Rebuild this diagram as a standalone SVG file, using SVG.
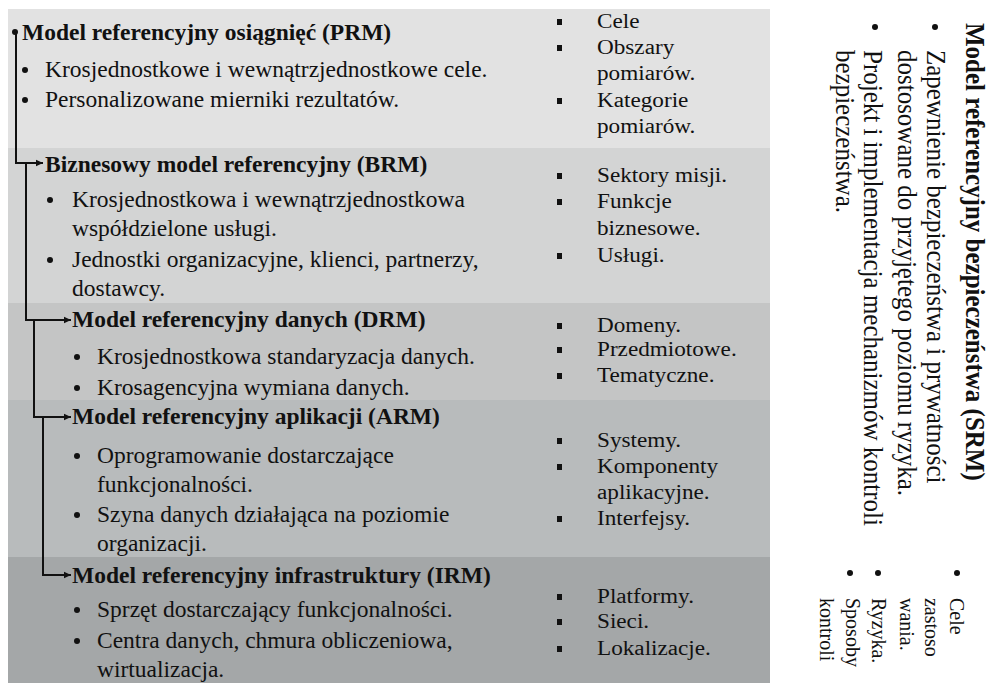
<svg xmlns="http://www.w3.org/2000/svg" width="988" height="683" viewBox="0 0 988 683" font-family="'Liberation Serif', 'Times New Roman', Tinos, 'DejaVu Serif', serif">
<style>
text{font-family:'Liberation Serif','Times New Roman',Tinos,'DejaVu Serif',serif;fill:#111}
.h{font-size:23.5px;font-weight:bold}
.b{font-size:23.5px}
.r{font-size:20px}
.sh{font-size:25px;font-weight:bold}
.sb{font-size:25px}
.ss{font-size:20px}
.dot{fill:#111}
.sq{fill:#111}
.conn{fill:none;stroke:#111;stroke-width:2}
</style>
<defs>
<marker id="arr" markerUnits="userSpaceOnUse" markerWidth="8" markerHeight="8" refX="7" refY="4" orient="auto">
<path d="M0,0.8 L7,4 L0,7.2 Z" fill="#111"/>
</marker>
</defs>
<rect width="988" height="683" fill="#ffffff"/>

<g id="prm">
<rect x="8" y="9" width="762" height="139" fill="#e2e2e2"/>
<circle class="dot" cx="15" cy="32" r="3"/>
<text class="h" x="22" y="40">Model referencyjny osiągnięć (PRM)</text>
<circle class="dot" cx="25" cy="70" r="3"/>
<text class="b" x="45" y="77">Krosjednostkowe i wewnątrzjednostkowe cele.</text>
<circle class="dot" cx="25" cy="100" r="3"/>
<text class="b" x="45" y="107">Personalizowane mierniki rezultatów.</text>
<rect class="sq" x="557" y="19" width="5" height="6"/>
<rect class="sq" x="557" y="45" width="5" height="6"/>
<rect class="sq" x="557" y="98" width="5" height="6"/>
<g transform="translate(597 0) scale(1.16 1)">
<text class="r" x="0" y="28">Cele</text>
<text class="r" x="0" y="54">Obszary</text>
<text class="r" x="0" y="80">pomiarów.</text>
<text class="r" x="0" y="107">Kategorie</text>
<text class="r" x="0" y="133">pomiarów.</text>
</g>
</g>

<g id="brm">
<rect x="8" y="148" width="762" height="155" fill="#d3d4d4"/>
<text class="h" x="45" y="172">Biznesowy model referencyjny (BRM)</text>
<circle class="dot" cx="50" cy="200" r="3"/>
<text class="b" x="72" y="207">Krosjednostkowa i wewnątrzjednostkowa</text>
<text class="b" x="72" y="236">współdzielone usługi.</text>
<circle class="dot" cx="50" cy="260" r="3"/>
<text class="b" x="72" y="267">Jednostki organizacyjne, klienci, partnerzy,</text>
<text class="b" x="72" y="296">dostawcy.</text>
<rect class="sq" x="557" y="173" width="5" height="6"/>
<rect class="sq" x="557" y="199" width="5" height="6"/>
<rect class="sq" x="557" y="253" width="5" height="6"/>
<g transform="translate(597 0) scale(1.16 1)">
<text class="r" x="0" y="182">Sektory misji.</text>
<text class="r" x="0" y="208">Funkcje</text>
<text class="r" x="0" y="235">biznesowe.</text>
<text class="r" x="0" y="262">Usługi.</text>
</g>
</g>

<g id="drm">
<rect x="8" y="303" width="762" height="97" fill="#c4c5c5"/>
<text class="h" x="72" y="327">Model referencyjny danych (DRM)</text>
<circle class="dot" cx="77" cy="357" r="3"/>
<text class="b" x="97" y="364">Krosjednostkowa standaryzacja danych.</text>
<circle class="dot" cx="77" cy="388" r="3"/>
<text class="b" x="97" y="395">Krosagencyjna wymiana danych.</text>
<rect class="sq" x="557" y="323" width="5" height="6"/>
<rect class="sq" x="557" y="347" width="5" height="6"/>
<rect class="sq" x="557" y="373" width="5" height="6"/>
<g transform="translate(597 0) scale(1.16 1)">
<text class="r" x="0" y="332">Domeny.</text>
<text class="r" x="0" y="356">Przedmiotowe.</text>
<text class="r" x="0" y="382">Tematyczne.</text>
</g>
</g>

<g id="arm">
<rect x="8" y="400" width="762" height="157" fill="#b8bbbc"/>
<text class="h" x="72" y="424">Model referencyjny aplikacji (ARM)</text>
<circle class="dot" cx="77" cy="456" r="3"/>
<text class="b" x="97" y="463">Oprogramowanie dostarczające</text>
<text class="b" x="97" y="492">funkcjonalności.</text>
<circle class="dot" cx="77" cy="515" r="3"/>
<text class="b" x="97" y="522">Szyna danych działająca na poziomie</text>
<text class="b" x="97" y="551">organizacji.</text>
<rect class="sq" x="557" y="438" width="5" height="6"/>
<rect class="sq" x="557" y="464" width="5" height="6"/>
<rect class="sq" x="557" y="516" width="5" height="6"/>
<g transform="translate(597 0) scale(1.16 1)">
<text class="r" x="0" y="447">Systemy.</text>
<text class="r" x="0" y="473">Komponenty</text>
<text class="r" x="0" y="499">aplikacyjne.</text>
<text class="r" x="0" y="525">Interfejsy.</text>
</g>
</g>

<g id="irm">
<rect x="8" y="557" width="762" height="126" fill="#a4a7a8"/>
<text class="h" x="72" y="583">Model referencyjny infrastruktury (IRM)</text>
<circle class="dot" cx="77" cy="610" r="3"/>
<text class="b" x="97" y="617">Sprzęt dostarczający funkcjonalności.</text>
<circle class="dot" cx="77" cy="641" r="3"/>
<text class="b" x="97" y="648">Centra danych, chmura obliczeniowa,</text>
<text class="b" x="97" y="677">wirtualizacja.</text>
<rect class="sq" x="557" y="594" width="5" height="6"/>
<rect class="sq" x="557" y="619" width="5" height="6"/>
<rect class="sq" x="557" y="646" width="5" height="6"/>
<g transform="translate(597 0) scale(1.16 1)">
<text class="r" x="0" y="603">Platformy.</text>
<text class="r" x="0" y="628">Sieci.</text>
<text class="r" x="0" y="655">Lokalizacje.</text>
</g>
</g>

<g id="srm">
<text class="sh" transform="translate(966 23) rotate(90) scale(1 1.06)">Model referencyjny bezpieczeństwa (SRM)</text>
<circle class="dot" cx="935" cy="27" r="3"/>
<text class="sb" transform="translate(927 50) rotate(90) scale(1 1.08)">Zapewnienie bezpieczeństwa i prywatności</text>
<text class="sb" transform="translate(898 50) rotate(90) scale(1 1.08)">dostosowane do przyjętego poziomu ryzyka.</text>
<circle class="dot" cx="875" cy="27" r="3"/>
<text class="sb" transform="translate(864 50) rotate(90) scale(1 1.08)">Projekt i implementacja mechanizmów kontroli</text>
<text class="sb" transform="translate(836 50) rotate(90) scale(1 1.08)">bezpieczeństwa.</text>
<circle class="dot" cx="957" cy="573" r="3"/>
<text class="ss" transform="translate(950 598) rotate(90) scale(1 1.1)">Cele</text>
<text class="ss" transform="translate(925 598) rotate(90) scale(1 1.1)">zastoso</text>
<text class="ss" transform="translate(900 598) rotate(90) scale(1 1.1)">wania.</text>
<circle class="dot" cx="878" cy="573" r="3"/>
<text class="ss" transform="translate(872 598) rotate(90) scale(1 1.1)">Ryzyka.</text>
<circle class="dot" cx="850" cy="573" r="3"/>
<text class="ss" transform="translate(846 598) rotate(90) scale(1 1.1)">Sposoby</text>
<text class="ss" transform="translate(820 598) rotate(90) scale(1 1.1)">kontroli</text>
</g>

<g id="connectors">
<path class="conn" d="M16,32 V163 H43" marker-end="url(#arr)"/>
<path class="conn" d="M26,163 V320 H71" marker-end="url(#arr)"/>
<path class="conn" d="M34,320 V417 H71" marker-end="url(#arr)"/>
<path class="conn" d="M43,417 V575 H71" marker-end="url(#arr)"/>
</g>
</svg>
